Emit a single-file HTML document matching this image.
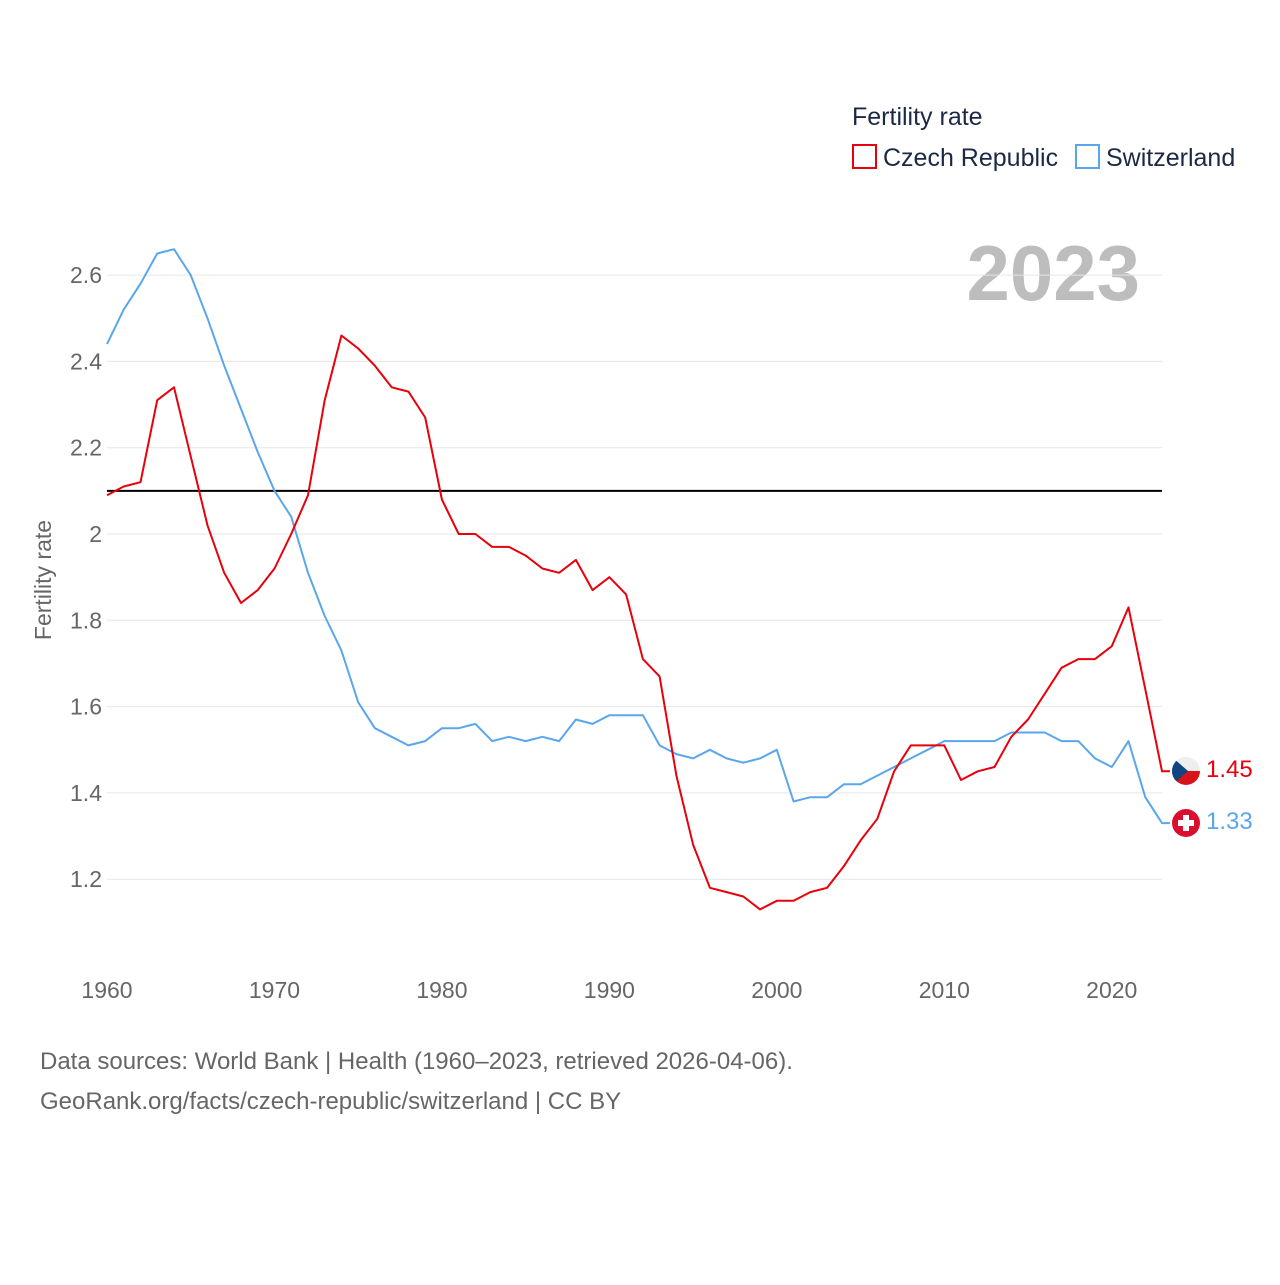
<!DOCTYPE html>
<html><head><meta charset="utf-8"><style>
body{margin:0;background:#fff;}
svg text{font-family:"Liberation Sans",sans-serif;}
</style></head><body>
<svg id="chart" width="1280" height="1280" viewBox="0 0 1280 1280" xmlns="http://www.w3.org/2000/svg">
<rect width="1280" height="1280" fill="#fff"/>
<text x="852" y="125" font-size="25" fill="#1a2a44">Fertility rate</text>
<g><rect x="853" y="145" width="23" height="23" fill="none" stroke="#e8000b" stroke-width="2"/><text x="883" y="166" font-size="25" fill="#1a2a44">Czech Republic</text></g>
<g><rect x="1076" y="145" width="23" height="23" fill="none" stroke="#5aa6ec" stroke-width="2"/><text x="1106" y="166" font-size="25" fill="#1a2a44">Switzerland</text></g>
<text x="1140" y="300" font-size="78" font-weight="bold" fill="#bdbdbd" text-anchor="end">2023</text>
<g id="grid"></g><g id="yticks"></g><g id="xticks"></g>
<text transform="translate(51,580) rotate(-90)" font-size="23" fill="#666" text-anchor="middle">Fertility rate</text>
<g id="lines"></g>
<g><clipPath id="c1"><circle cx="1186" cy="771" r="14"/></clipPath><g clip-path="url(#c1)"><rect x="1172" y="757" width="28" height="14" fill="#eee"/><rect x="1172" y="771" width="28" height="14" fill="#d7141a"/><polygon points="1172,757 1188,771 1172,785" fill="#11457e"/></g></g>
<g><circle cx="1186" cy="823" r="14" fill="#da0e2f"/><rect x="1183" y="815" width="6" height="16" fill="#fff"/><rect x="1178" y="820" width="16" height="6" fill="#fff"/></g>
<text x="1206" y="777" font-size="24" fill="#e8000b">1.45</text>
<text x="1206" y="829" font-size="24" fill="#5aa6ec">1.33</text>
<text x="40" y="1069" font-size="24" fill="#666">Data sources: World Bank | Health (1960–2023, retrieved 2026-04-06).</text>
<text x="40" y="1109" font-size="24" fill="#666">GeoRank.org/facts/czech-republic/switzerland | CC BY</text>
</svg>
<script>
const years=[];for(let y=1960;y<=2023;y++)years.push(y);
const czech=[2.09,2.11,2.12,2.31,2.34,2.18,2.02,1.91,1.84,1.87,1.92,2.0,2.09,2.31,2.46,2.43,2.39,2.34,2.33,2.27,2.08,2.0,2.0,1.97,1.97,1.95,1.92,1.91,1.94,1.87,1.9,1.86,1.71,1.67,1.44,1.28,1.18,1.17,1.16,1.13,1.15,1.15,1.17,1.18,1.23,1.29,1.34,1.45,1.51,1.51,1.51,1.43,1.45,1.46,1.53,1.57,1.63,1.69,1.71,1.71,1.74,1.83,1.64,1.45];
const swiss=[2.44,2.52,2.58,2.65,2.66,2.6,2.5,2.39,2.29,2.19,2.1,2.04,1.91,1.81,1.73,1.61,1.55,1.53,1.51,1.52,1.55,1.55,1.56,1.52,1.53,1.52,1.53,1.52,1.57,1.56,1.58,1.58,1.58,1.51,1.49,1.48,1.5,1.48,1.47,1.48,1.5,1.38,1.39,1.39,1.42,1.42,1.44,1.46,1.48,1.5,1.52,1.52,1.52,1.52,1.54,1.54,1.54,1.52,1.52,1.48,1.46,1.52,1.39,1.33];
const yTicks=[1.2,1.4,1.6,1.8,2,2.2,2.4,2.6];
const xTicks=[1960,1970,1980,1990,2000,2010,2020];
const replacement=2.1;
const X=y=>107+(y-1960)*(1162-107)/63;
const Y=v=>534-(v-2)*431.5;
const NS="http://www.w3.org/2000/svg";
function mk(t,a,p){const e=document.createElementNS(NS,t);for(const k in a)e.setAttribute(k,a[k]);document.getElementById(p).appendChild(e);return e;}
yTicks.forEach(v=>{
 const l=mk('line',{x1:107,x2:1162,y1:Y(v),y2:Y(v),stroke:'#e6e6e6','stroke-width':1},'grid');
 
 
 const t=mk('text',{x:102,y:Y(v)+8,'font-size':23,fill:'#666','text-anchor':'end'},'yticks');
 t.textContent=String(v);
 
 
});
xTicks.forEach(v=>{
 const t=mk('text',{x:X(v),y:998,'font-size':23,fill:'#666','text-anchor':'middle'},'xticks');
 t.textContent=String(v);
 
 
});
const ref=mk('line',{x1:107,x2:1162,y1:Y(replacement),y2:Y(replacement),stroke:'#000','stroke-width':2},'lines');


function series(d,c,n){
 let pts=d.map((v,i)=>X(years[i]).toFixed(1)+','+Y(v).toFixed(1)).join(' ');
 pts+=' '+(X(years[years.length-1])+8).toFixed(1)+','+Y(d[d.length-1]).toFixed(1);
 const p=mk('polyline',{points:pts,fill:'none',stroke:c,'stroke-width':2,'stroke-linejoin':'round'},'lines');
 
 
}
series(swiss,'#5aa6ec','switzerland-line');
series(czech,'#e8000b','czech-republic-line');
</script>
</body></html>
